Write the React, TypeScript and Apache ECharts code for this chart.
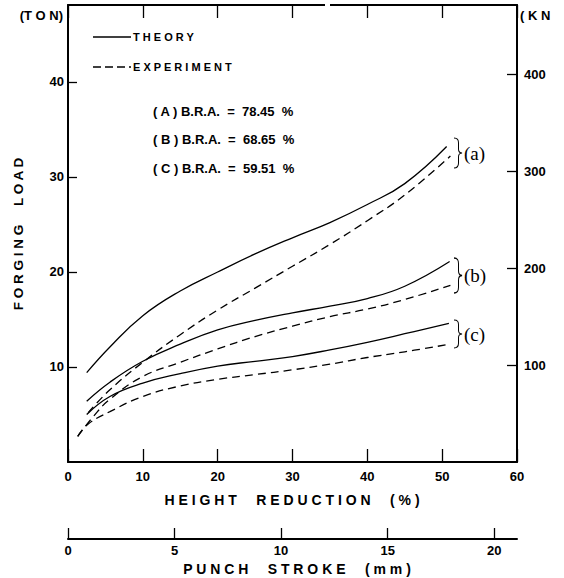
import React, { useEffect, useRef } from "react";
import * as echarts from "echarts";

// ---- data ----
const heightReductionMax = 60;
const strokeMax = 21.07;
const loadTonMax = 48.1;
const tonToKn = 9.8;

const theoryA = [[2.5, 9.4], [5.6, 12.1], [10, 15.4], [15, 18.0], [20, 20.0], [25, 21.9], [30, 23.6], [35, 25.2], [40, 27.1], [45, 29.3], [50.6, 33.2]];
const experimentA = [[2.7, 5.2], [5.6, 7.6], [10, 10.5], [15, 13.4], [20, 16.0], [25, 18.3], [30, 20.6], [35, 22.9], [40, 25.4], [45, 28.1], [51.1, 32.2]];
const theoryB = [[2.5, 6.4], [5.6, 8.4], [10, 10.6], [15, 12.4], [20, 13.9], [25, 14.9], [30, 15.7], [35, 16.4], [40, 17.2], [45, 18.5], [51, 21.1]];
const experimentB = [[1.3, 2.7], [3.4, 4.8], [5.6, 6.6], [10, 9.0], [15, 10.5], [20, 11.9], [25, 13.2], [30, 14.3], [35, 15.3], [40, 16.1], [45, 17.1], [51.1, 18.6]];
const theoryC = [[2.5, 5.0], [5.6, 6.9], [10, 8.3], [15, 9.3], [20, 10.1], [25, 10.6], [30, 11.1], [35, 11.8], [40, 12.6], [45, 13.5], [50.9, 14.6]];
const experimentC = [[1.3, 2.7], [2.7, 4.0], [5.6, 5.3], [10, 6.9], [15, 8.0], [20, 8.7], [25, 9.2], [30, 9.7], [35, 10.3], [40, 11.0], [45, 11.6], [51, 12.4]];

const annotations = ["( A ) B.R.A.  =  78.45  %", "( B ) B.R.A.  =  68.65  %", "( C ) B.R.A.  =  59.51  %"];
const groupLabels = ["(a)", "(b)", "(c)"];
const legendLabels = ["T H E O R Y", "E X P E R I M E N T"];

const FONT = '"Liberation Sans", Arial, sans-serif';
const SERIF = '"Liberation Serif", "Times New Roman", serif';

const braceD = "M0,0 C4,0 5,2 5,5 L5,11 C5,14 6,15 9,15 C6,15 5,16 5,19 L5,25 C5,28 4,30 0,30";
echarts.graphic.registerShape("brace", echarts.graphic.extendPath(braceD, {}) as any);

function txt(text: string, x: number, y: number, opts: any = {}) {
  const align = opts.align || "left";
  return {
    type: "text",
    x,
    y,
    rotation: opts.rotation || 0,
    z: 100,
    style: {
      text,
      fill: "#000",
      font: opts.font || `bold 13px ${FONT}`,
      align,
      textAlign: align,
      verticalAlign: "middle",
      textVerticalAlign: "middle",
    },
  };
}

export default function App() {
  const ref = useRef<HTMLDivElement>(null);
  useEffect(() => {
    if (!ref.current) return;
    const chart = echarts.init(ref.current, null, { renderer: "svg" });
    const lineCol = "#000";
    const axisLabel = { color: "#000", fontFamily: FONT, fontWeight: "bold", fontSize: 13 };
    const mkSeries = (data: number[][], dashed: boolean) => ({
      type: "line",
      data,
      smooth: 0.45,
      showSymbol: false,
      xAxisIndex: 0,
      yAxisIndex: 0,
      lineStyle: { color: lineCol, width: 1.3, type: dashed ? [8, 5] : "solid" },
    });

    const braces = [
      { y: 138, h: 30 },
      { y: 258, h: 35 },
      { y: 320, h: 28 },
    ];

    const graphic: any[] = [
      { type: "rect", z: 100, shape: { x: 325, y: 2, width: 5, height: 6 }, style: { fill: "#fff" } },
      txt("(T O N)", 63, 15, { align: "right" }),
      txt("( K N", 520, 15),
      txt("F O R G I N G     L O A D", 18, 234, { align: "center", rotation: Math.PI / 2, font: `bold 13.5px ${FONT}` }),
      txt("H E I G H T     R E D U C T I O N     ( % )", 292, 500, { align: "center", font: `bold 14px ${FONT}` }),
      txt("P U N C H     S T R O K E     ( m m )", 297, 569, { align: "center", font: `bold 14px ${FONT}` }),
      { type: "line", z: 100, shape: { x1: 93, y1: 37, x2: 131, y2: 37 }, style: { stroke: "#000", lineWidth: 1.3 } },
      { type: "line", z: 100, shape: { x1: 93, y1: 67, x2: 131, y2: 67 }, style: { stroke: "#000", lineWidth: 1.3, lineDash: [8, 4] } },
      txt(legendLabels[0], 133, 37, { font: `bold 11px ${FONT}` }),
      txt(legendLabels[1], 133, 67, { font: `bold 11px ${FONT}` }),
      txt(annotations[0], 153, 111, { font: `bold 13px ${FONT}` }),
      txt(annotations[1], 153, 139, { font: `bold 13px ${FONT}` }),
      txt(annotations[2], 153, 168, { font: `bold 13px ${FONT}` }),
    ];
    braces.forEach((b, i) => {
      graphic.push({
        type: "brace",
        z: 100,
        x: 454,
        y: b.y,
        scaleX: 0.9,
        scaleY: b.h / 30,
        style: { stroke: "#000", fill: null, lineWidth: 1.1 },
      });
      graphic.push(txt(groupLabels[i], 464, b.y + b.h / 2, { font: `19px ${SERIF}` }));
    });

    chart.setOption({
      animation: false,
      backgroundColor: "#fff",
      grid: { left: 68, right: 47, top: 5, bottom: 116, containLabel: false },
      xAxis: [
        {
          type: "value",
          position: "bottom",
          min: 0,
          max: heightReductionMax,
          interval: 10,
          axisLine: { show: true, onZero: false, lineStyle: { color: lineCol, width: 2 } },
          axisTick: { show: true, inside: true, length: 13, lineStyle: { color: lineCol, width: 1.3 } },
          axisLabel: { ...axisLabel, margin: 8 },
          splitLine: { show: false },
        },
        {
          type: "value",
          position: "top",
          min: 0,
          max: heightReductionMax,
          interval: 10,
          axisLine: { show: true, onZero: false, lineStyle: { color: lineCol, width: 2 } },
          axisTick: { show: true, inside: true, length: 13, lineStyle: { color: lineCol, width: 1.3 } },
          axisLabel: { show: false },
          splitLine: { show: false },
        },
        {
          type: "value",
          position: "bottom",
          offset: 77,
          min: 0,
          max: strokeMax,
          interval: 5,
          axisLine: { show: true, onZero: false, lineStyle: { color: lineCol, width: 2 } },
          axisTick: { show: true, inside: true, length: 11, lineStyle: { color: lineCol, width: 1.3 } },
          axisLabel: { ...axisLabel, margin: 5, showMaxLabel: false, formatter: (v: number) => (v % 5 === 0 ? String(v) : "") },
          splitLine: { show: false },
        },
      ],
      yAxis: [
        {
          type: "value",
          position: "left",
          min: 0,
          max: loadTonMax,
          interval: 10,
          axisLine: { show: true, onZero: false, lineStyle: { color: lineCol, width: 2 } },
          axisTick: { show: true, inside: true, length: 9, lineStyle: { color: lineCol, width: 1.3 } },
          axisLabel: { ...axisLabel, margin: 4, showMinLabel: false, showMaxLabel: false, formatter: (v: number) => (v > 0 && v % 10 === 0 ? String(v) : "") },
          splitLine: { show: false },
        },
        {
          type: "value",
          position: "right",
          min: 0,
          max: loadTonMax * tonToKn,
          interval: 100,
          axisLine: { show: true, onZero: false, lineStyle: { color: lineCol, width: 2 } },
          axisTick: { show: true, inside: true, length: 10, lineStyle: { color: lineCol, width: 1.3 } },
          axisLabel: { ...axisLabel, margin: 7, showMinLabel: false, showMaxLabel: false, formatter: (v: number) => (v > 0 && v % 100 === 0 ? String(v) : "") },
          splitLine: { show: false },
        },
      ],
      series: [
        mkSeries(theoryA, false),
        mkSeries(experimentA, true),
        mkSeries(theoryB, false),
        mkSeries(experimentB, true),
        mkSeries(theoryC, false),
        mkSeries(experimentC, true),
      ],
      graphic,
    } as any);
    return () => chart.dispose();
  }, []);
  return (
    <div
      ref={ref}
      style={{ position: "fixed", left: 0, top: 0, width: 564, height: 578, background: "#fff" }}
    />
  );
}
